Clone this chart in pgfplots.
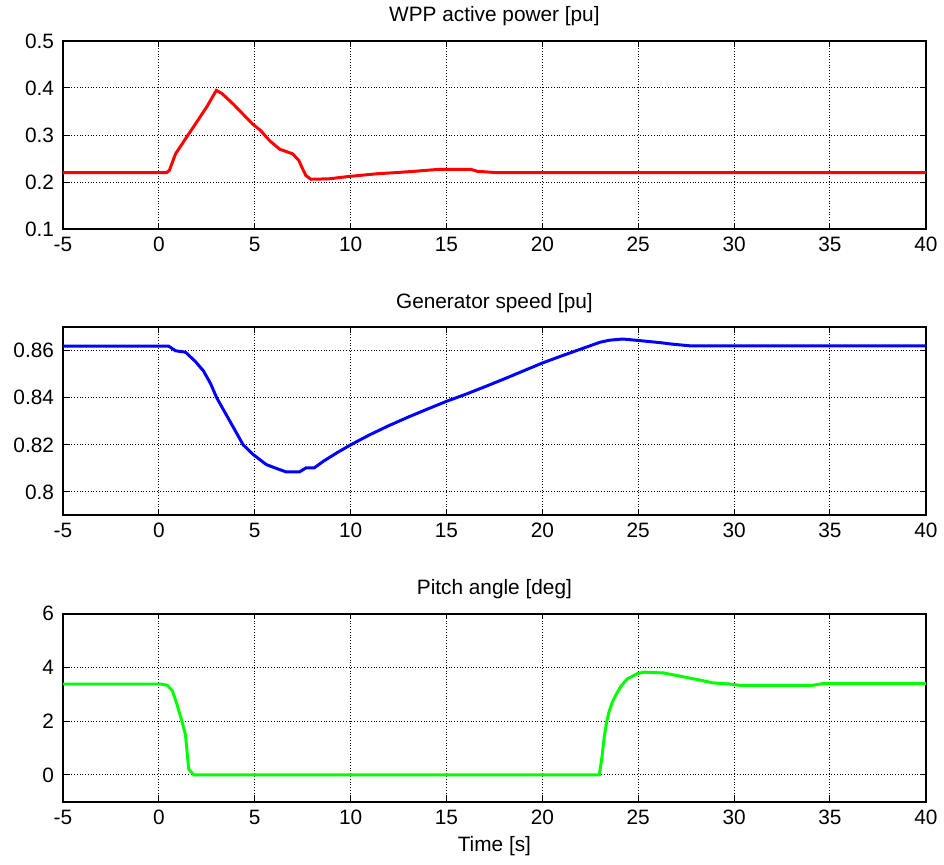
\documentclass[border=0pt]{standalone}
\usepackage{pgfplots}
\pgfplotsset{compat=1.18}
\usepackage{fontspec}
\setmainfont{Liberation Sans}
\begin{document}
\pgfplotsset{
  mystyle/.style={
    scale only axis, width=435.5pt, height=95pt,
    xmin=-5, xmax=40, xtick={-5,0,...,40},
    grid=major, major grid style={black, densely dotted, line width=0.5pt},
    tick align=inside, major tick length=3pt,
    tick style={black, line width=0.5pt},
    axis line style={black, line width=1pt},
    every tick label/.append style={font=\fontsize{10.5}{12}\selectfont},
    /pgf/number format/assume math mode=true,
    title style={font=\fontsize{10.5}{12}\selectfont, yshift=-2pt},
    label style={font=\fontsize{10.5}{12}\selectfont},
    xticklabel style={yshift=-0.5pt},
    yticklabel style={xshift=-1pt},
  }
}
\begin{tikzpicture}
\path (-29pt,115.5pt) rectangle (443pt,-320.5pt);
\begin{axis}[mystyle, at={(0pt,0pt)}, anchor=south west,
  ymin=0.1, ymax=0.5, ytick={0.1,0.2,0.3,0.4,0.5},
  yticklabel style={/pgf/number format/.cd, fixed, fixed zerofill, precision=1},
  title={WPP active power [pu]}]
\addplot[red, line width=1.5pt] coordinates {
(-5,0.22) (0.4,0.22) (0.55,0.225) (0.87,0.26) (1.39,0.292) (1.9,0.323) (2.5,0.36) (3.0,0.395)
(3.3,0.388) (3.9,0.365) (4.4,0.344) (4.9,0.323) (5.3,0.31) (5.78,0.288) (6.3,0.27) (6.98,0.26) (7.3,0.246)
(7.5,0.228) (7.67,0.214) (7.93,0.206) (8.88,0.207) (9.91,0.212) (11.46,0.218) (12.3,0.22)
(13.35,0.223) (14.56,0.227) (16.28,0.227) (16.6,0.223) (17.66,0.22) (40,0.22)
};
\end{axis}
\begin{axis}[mystyle, at={(0pt,-144.5pt)}, anchor=south west,
  ymin=0.79, ymax=0.87, ytick={0.8,0.82,0.84,0.86},
  yticklabel style={/pgf/number format/.cd, fixed, precision=2},
  title={Generator speed [pu]}]
\addplot[blue, line width=1.5pt] coordinates {
(-5,0.862) (0.5,0.862) (0.87,0.86) (1.39,0.8594) (1.9,0.8555) (2.33,0.8514) (2.7,0.846) (3.02,0.84)
(3.71,0.830) (4.4,0.820) (4.92,0.8159) (5.61,0.8116) (6.3,0.8095) (6.64,0.8085)
(7.33,0.8085) (7.67,0.8102) (8.1,0.8102) (8.61,0.8132) (9.3,0.8167) (10,0.82) (11,0.8243)
(12,0.8282) (13,0.8318) (14,0.8352) (15,0.8385) (16,0.8415) (17,0.8447) (18,0.848) (19,0.8514) (20,0.8548)
(21,0.8578) (22,0.8607) (23,0.8636) (23.5,0.8645)
(24.2,0.865) (25.1,0.8643) (26.1,0.8635) (26.8,0.8628) (27.7,0.8621) (40,0.8621)
};
\end{axis}
\begin{axis}[mystyle, at={(0pt,-289pt)}, anchor=south west,
  ymin=-1, ymax=6, ytick={0,2,4,6},
  title={Pitch angle [deg]}, xlabel={Time [s]},
  xlabel style={yshift=1pt}]
\addplot[green, line width=1.5pt] coordinates {
(-5,3.38) (0.1,3.38) (0.44,3.33) (0.70,3.14) (0.96,2.59) (1.21,1.98) (1.39,1.49)
(1.47,0.88) (1.56,0.21) (1.82,0) (22.97,0) (23.1,0.6) (23.22,1.37) (23.35,1.95) (23.48,2.35) (23.65,2.7) (23.83,2.96)
(24.1,3.3) (24.43,3.57) (24.95,3.76) (25.29,3.82) (26.33,3.79) (27.19,3.67) (28.05,3.55)
(28.91,3.42) (29.78,3.38) (30.29,3.33) (34.09,3.33) (34.6,3.39) (40,3.39)
};
\end{axis}
\end{tikzpicture}
\end{document}
